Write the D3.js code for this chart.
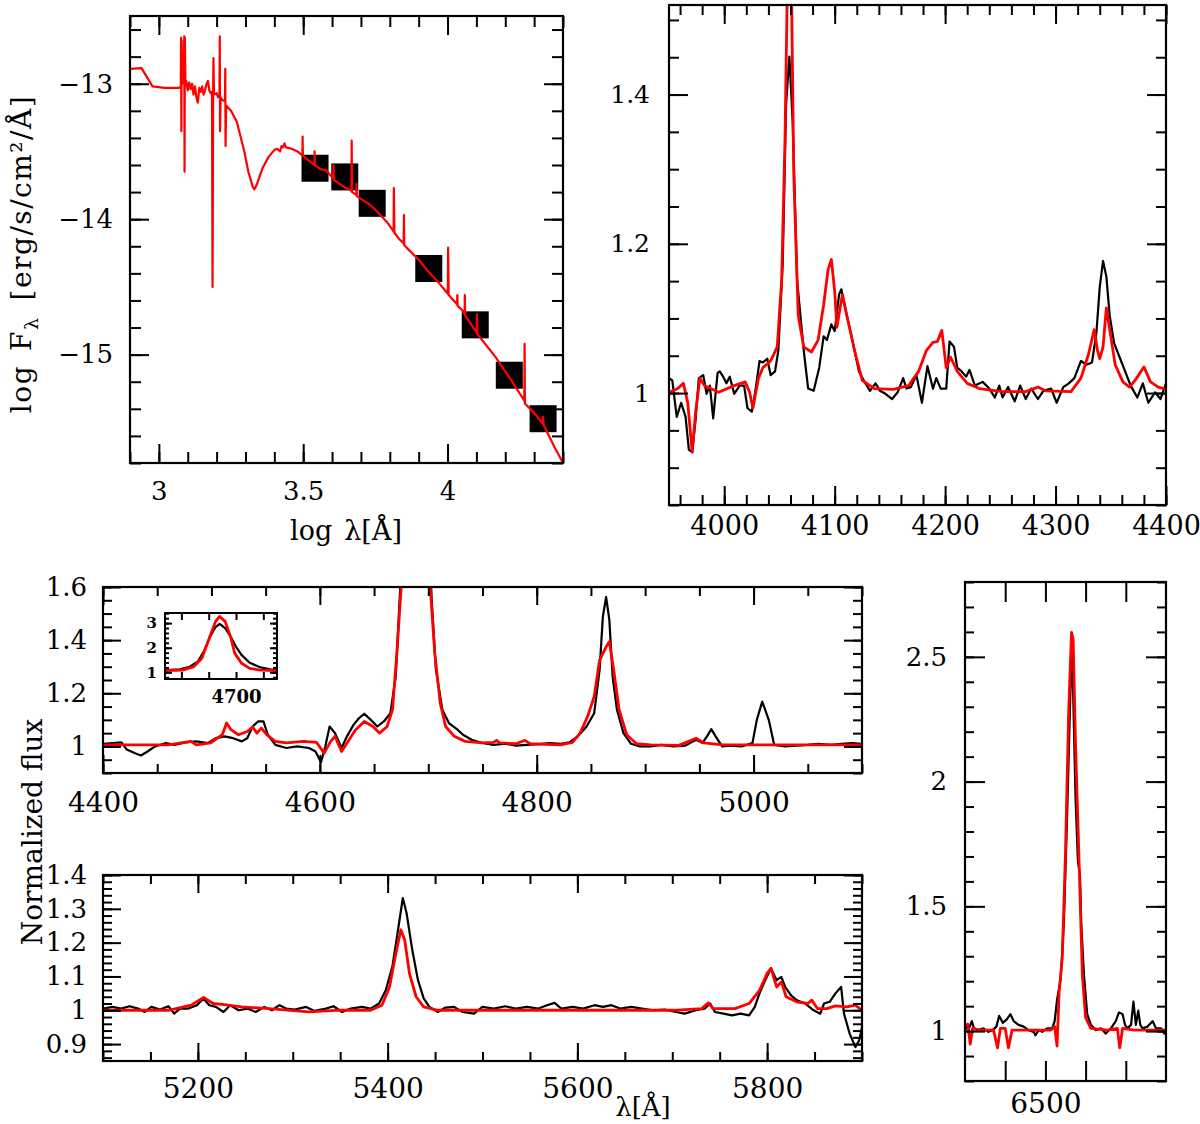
<!DOCTYPE html>
<html>
<head>
<meta charset="utf-8">
<script src="https://cdn.jsdelivr.net/npm/d3@7"></script>
<style>
  body { margin: 0; background: #fff; }
  svg { font-family: "DejaVu Serif", serif; }
  .frame { fill: none; stroke: #000; stroke-width: 2.2; }
  .tick line { stroke: #000; stroke-width: 2; }
  .obs { fill: none; stroke: #000; stroke-width: 2.2; stroke-linejoin: round; }
  .model { fill: none; stroke: #f00; stroke-width: 2.8; stroke-linejoin: round; }
  .label { font-size: 27px; text-anchor: middle; }
</style>
</head>
<body>
<div id="chart"></div>
<script>
// ---- SED panel (log lambda, log F) ----
const sedModel = [
  [2.9, -12.89], [2.94, -12.885], [2.978, -13.02], [3.02, -13.03], [3.07, -13.03],
  [3.076, -13.02], [3.077, -12.66], [3.078, -13.35], [3.079, -12.68], [3.081, -13.0],
  [3.086, -12.98], [3.088, -12.65], [3.089, -13.65], [3.090, -12.66], [3.092, -13.0],
  [3.095, -12.98], [3.10, -13.05], [3.105, -12.99], [3.11, -13.04], [3.115, -13.0],
  [3.12, -13.08], [3.125, -13.02], [3.13, -13.1], [3.135, -13.14], [3.14, -13.03],
  [3.145, -13.06], [3.15, -13.02], [3.155, -13.08], [3.16, -13.05], [3.165, -13.0],
  [3.17, -12.98], [3.175, -13.05], [3.18, -13.07], [3.184, -13.06], [3.186, -14.5],
  [3.188, -13.08], [3.189, -12.81], [3.191, -13.08], [3.2, -13.07], [3.205, -13.1],
  [3.21, -13.09], [3.211, -12.65], [3.212, -13.35], [3.214, -13.1], [3.22, -13.12],
  [3.229, -13.13], [3.230, -12.89], [3.231, -13.46], [3.233, -13.16], [3.25, -13.2],
  [3.27, -13.28], [3.296, -13.5], [3.31, -13.65], [3.325, -13.76], [3.331, -13.78],
  [3.34, -13.74], [3.36, -13.62], [3.38, -13.54], [3.40, -13.49], [3.41, -13.48],
  [3.42, -13.5], [3.425, -13.46], [3.43, -13.47], [3.435, -13.44], [3.44, -13.47],
  [3.46, -13.48], [3.48, -13.5], [3.497, -13.53], [3.498, -13.39], [3.499, -13.53],
  [3.52, -13.57], [3.539, -13.6], [3.5396, -13.5], [3.540, -13.6], [3.56, -13.63],
  [3.58, -13.64], [3.604, -13.7], [3.605, -13.6], [3.606, -13.71], [3.62, -13.73],
  [3.64, -13.76], [3.667, -13.79], [3.668, -13.42], [3.669, -13.8], [3.684, -13.82],
  [3.685, -13.74], [3.686, -13.83], [3.70, -13.85], [3.729, -13.89], [3.75, -13.93],
  [3.79, -14.02], [3.813, -14.09], [3.814, -13.77], [3.816, -14.1], [3.83, -14.14],
  [3.848, -14.18], [3.849, -13.97], [3.850, -14.19], [3.858, -14.21], [3.90, -14.3],
  [3.935, -14.39], [3.97, -14.47], [4.001, -14.55], [4.002, -14.21], [4.004, -14.56],
  [4.03, -14.62], [4.033, -14.63], [4.034, -14.56], [4.035, -14.64], [4.05, -14.67],
  [4.059, -14.7], [4.06, -14.56], [4.061, -14.71], [4.08, -14.77], [4.101, -14.84],
  [4.102, -14.70], [4.104, -14.85], [4.13, -14.92], [4.167, -15.02], [4.218, -15.18],
  [4.266, -15.34], [4.267, -14.92], [4.268, -15.36], [4.30, -15.43], [4.33, -15.51],
  [4.331, -15.46], [4.333, -15.52], [4.37, -15.68], [4.395, -15.78], [4.4, -15.8]
]
const sedPhot = [
  [3.541, -13.624], [3.644, -13.688], [3.739, -13.883], [3.935, -14.364],
  [4.096, -14.78], [4.214, -15.152], [4.331, -15.473]
]
const sedXTicks = [3, 3.5, 4]
const sedYTicks = [-13, -14, -15]

// ---- 3950-4400 A ----
const blueObs = [
  [3950, 1.02], [3953, 1.017], [3957, 0.968], [3961, 0.987], [3965, 0.968], [3968, 0.924],
  [3971, 0.921], [3974, 0.963], [3977, 1.02], [3981, 1.024], [3984, 0.999], [3987, 1.01],
  [3990, 0.966], [3994, 1.027], [3996, 1.029], [3999, 1.022], [4002, 1.013], [4005, 1.022],
  [4009, 0.999], [4014, 1.01], [4018, 1.01], [4021, 0.98], [4025, 0.975], [4028, 1.001],
  [4032, 1.043], [4035, 1.041], [4039, 1.046], [4042, 1.024], [4046, 1.029], [4049, 1.057],
  [4053, 1.175], [4056, 1.386], [4059, 1.451], [4062, 1.362], [4066, 1.151], [4072, 1.057],
  [4076, 1.006], [4081, 1.003], [4086, 1.034], [4090, 1.076], [4093, 1.071], [4097, 1.092],
  [4100, 1.083], [4104, 1.132], [4106, 1.139], [4111, 1.104], [4116, 1.071], [4122, 1.029],
  [4127, 1.015], [4132, 1.003], [4137, 1.013], [4141, 1.003], [4146, 0.999], [4152, 0.992],
  [4157, 1.001], [4162, 1.02], [4165, 1.006], [4169, 1.008], [4174, 1.024], [4179, 0.987],
  [4184, 1.036], [4189, 1.006], [4192, 1.02], [4196, 1.006], [4201, 1.006], [4204, 1.069],
  [4208, 1.062], [4211, 1.034], [4215, 1.029], [4219, 1.022], [4222, 1.031], [4227, 1.01],
  [4234, 1.015], [4240, 1.006], [4245, 0.994], [4249, 1.01], [4252, 0.994], [4257, 1.008],
  [4263, 0.989], [4268, 1.01], [4273, 0.992], [4278, 1.006], [4284, 0.992], [4289, 1.003],
  [4296, 1.006], [4301, 0.987], [4307, 1.008], [4312, 1.013], [4317, 1.02], [4323, 1.043],
  [4328, 1.038], [4333, 1.041], [4337, 1.081], [4340, 1.142], [4343, 1.177], [4346, 1.156],
  [4349, 1.104], [4353, 1.067], [4358, 1.048], [4363, 1.029], [4368, 1.01], [4374, 0.994],
  [4379, 1.013], [4384, 0.987], [4390, 1.001], [4395, 0.992], [4400, 1.013]
]
const blueModel = [
  [3950, 1.001], [3958, 1.006], [3963, 1.013], [3967, 0.987], [3971, 0.921], [3974, 0.973],
  [3978, 1.02], [3982, 1.01], [3995, 1.001], [4009, 1.01], [4019, 1.015], [4023, 1.001],
  [4026, 0.98], [4031, 1.02], [4035, 1.034], [4042, 1.043], [4048, 1.062], [4052, 1.151],
  [4055, 1.339], [4057, 1.53], [4059, 1.62], [4061, 1.53], [4063, 1.292], [4067, 1.104],
  [4072, 1.062], [4079, 1.055], [4085, 1.071], [4090, 1.118], [4094, 1.165], [4097, 1.179],
  [4100, 1.137], [4102, 1.088], [4107, 1.132], [4111, 1.104], [4118, 1.057], [4125, 1.017],
  [4136, 1.006], [4153, 1.005], [4167, 1.01], [4176, 1.029], [4183, 1.057], [4189, 1.068],
  [4193, 1.069], [4197, 1.084], [4201, 1.034], [4205, 1.048], [4211, 1.029], [4220, 1.013],
  [4231, 1.006], [4252, 1.002], [4273, 1.002], [4284, 1.008], [4291, 1.003], [4314, 1.002],
  [4323, 1.02], [4330, 1.053], [4335, 1.085], [4338, 1.057], [4340, 1.046], [4343, 1.062],
  [4346, 1.114], [4350, 1.076], [4354, 1.038], [4361, 1.015], [4367, 1.008], [4372, 1.017],
  [4380, 1.035], [4386, 1.015], [4393, 1.008], [4400, 1.005]
]
const blueXTicks = [4000, 4100, 4200, 4300, 4400]
const blueYTicks = [1, 1.2, 1.4]

// ---- 4400-5100 A ----
const midObs = [
  [4400, 1.01], [4409, 1.013], [4417, 1.015], [4422, 0.988], [4429, 0.975], [4435, 0.966],
  [4441, 0.981], [4448, 1.0], [4458, 1.013], [4466, 1.006], [4476, 1.015], [4486, 1.019],
  [4497, 1.013], [4504, 1.031], [4512, 1.038], [4520, 1.031], [4528, 1.019], [4533, 1.031],
  [4538, 1.075], [4543, 1.094], [4548, 1.094], [4552, 1.044], [4559, 1.006], [4569, 0.994],
  [4579, 1.0], [4590, 0.994], [4596, 0.981], [4601, 0.94], [4605, 1.0], [4609, 1.075],
  [4614, 1.05], [4620, 0.994], [4625, 1.038], [4631, 1.081], [4636, 1.106], [4641, 1.123],
  [4647, 1.1], [4653, 1.075], [4659, 1.094], [4665, 1.125], [4670, 1.263], [4674, 1.588],
  [4677, 1.91], [4681, 2.45], [4685, 2.84], [4688, 2.97], [4692, 2.8], [4696, 2.45],
  [4700, 1.9], [4703, 1.5625], [4707, 1.29], [4713, 1.138], [4719, 1.088], [4727, 1.063],
  [4732, 1.044], [4740, 1.025], [4750, 1.013], [4760, 1.006], [4771, 1.01], [4781, 1.003],
  [4791, 1.006], [4802, 1.009], [4812, 1.013], [4822, 1.01], [4830, 1.015], [4838, 1.038],
  [4846, 1.075], [4853, 1.125], [4858, 1.288], [4861, 1.488], [4864, 1.5625], [4867, 1.475],
  [4870, 1.263], [4874, 1.138], [4880, 1.05], [4887, 1.01], [4895, 1.0], [4905, 1.0],
  [4915, 1.006], [4926, 1.0], [4937, 1.003], [4947, 1.025], [4953, 1.013], [4957, 1.038],
  [4961, 1.065], [4965, 1.038], [4971, 1.0], [4978, 1.003], [4989, 1.0], [4999, 1.013],
  [5003, 1.1], [5008, 1.169], [5014, 1.1], [5019, 1.006], [5029, 1.0], [5040, 1.003],
  [5050, 1.006], [5060, 1.01], [5071, 1.006], [5081, 1.01], [5091, 1.013], [5100, 1.01]
]
const midModel = [
  [4400, 1.006], [4460, 1.006], [4481, 1.019], [4486, 1.006], [4499, 1.013], [4510, 1.044],
  [4514, 1.088], [4518, 1.063], [4525, 1.044], [4533, 1.056], [4538, 1.073], [4542, 1.05],
  [4546, 1.069], [4551, 1.044], [4559, 1.019], [4569, 1.013], [4585, 1.019], [4597, 1.015],
  [4604, 0.975], [4610, 1.019], [4614, 1.038], [4620, 0.981], [4627, 1.025], [4633, 1.063],
  [4641, 1.094], [4649, 1.075], [4655, 1.05], [4662, 1.075], [4667, 1.138], [4671, 1.35],
  [4675, 1.6], [4680, 2.32], [4685, 3.07], [4688, 3.27], [4692, 3.07], [4696, 2.45],
  [4699, 1.9], [4702, 1.5875], [4706, 1.35], [4711, 1.163], [4716, 1.075], [4724, 1.038],
  [4734, 1.019], [4750, 1.013], [4760, 1.015], [4763, 1.023], [4766, 1.013], [4781, 1.01],
  [4789, 1.023], [4794, 1.01], [4822, 1.006], [4833, 1.015], [4840, 1.05], [4847, 1.113],
  [4853, 1.188], [4858, 1.325], [4864, 1.375], [4867, 1.394], [4871, 1.288], [4876, 1.138],
  [4883, 1.044], [4892, 1.01], [4905, 1.006], [4931, 1.004], [4947, 1.031], [4954, 1.013],
  [4972, 1.006], [5100, 1.006]
]
const midXTicks = [4400, 4600, 4800, 5000]
const midYTicks = [1, 1.2, 1.4, 1.6]

// ---- inset, He II 4686 ----
const insetObs = [
  [4648, 1.09], [4659, 1.12], [4666, 1.23], [4672, 1.43], [4677, 1.91], [4681, 2.45],
  [4685, 2.84], [4688, 2.97], [4692, 2.8], [4696, 2.45], [4700, 2.04], [4704, 1.71],
  [4710, 1.39], [4718, 1.2], [4725, 1.12], [4730, 1.09]
]
const insetModel = [
  [4648, 1.07], [4661, 1.09], [4669, 1.23], [4675, 1.57], [4680, 2.32], [4685, 3.07],
  [4688, 3.27], [4692, 3.07], [4696, 2.45], [4699, 1.78], [4704, 1.37], [4710, 1.16],
  [4718, 1.09], [4730, 1.07]
]
const insetXTicks = [4660, 4680, 4700, 4720]
const insetXLabels = [4700]
const insetYTicks = [1, 2, 3]

// ---- 5100-5900 A ----
const redObs = [
  [5100, 1.005], [5110, 1.01], [5119, 1.005], [5128, 1.012], [5137, 1.005], [5144, 0.995],
  [5151, 1.01], [5160, 1.002], [5169, 1.012], [5175, 0.99], [5181, 1.005], [5190, 1.005],
  [5199, 1.015], [5206, 1.035], [5212, 1.015], [5219, 1.01], [5227, 0.995], [5234, 1.015],
  [5243, 1.0], [5252, 1.005], [5261, 0.995], [5270, 1.01], [5278, 1.0], [5286, 1.015],
  [5293, 1.005], [5302, 1.002], [5314, 1.01], [5323, 0.998], [5335, 1.005], [5343, 1.012],
  [5352, 0.995], [5361, 1.005], [5373, 1.01], [5382, 1.005], [5391, 1.02], [5398, 1.059],
  [5405, 1.129], [5411, 1.238], [5416, 1.332], [5420, 1.287], [5426, 1.178], [5432, 1.089],
  [5438, 1.035], [5444, 1.01], [5453, 0.995], [5461, 1.008], [5470, 1.01], [5479, 0.995],
  [5491, 0.99], [5500, 1.01], [5512, 1.005], [5524, 1.012], [5535, 1.005], [5547, 1.01],
  [5559, 1.005], [5568, 1.015], [5576, 1.022], [5583, 1.005], [5595, 1.01], [5606, 1.005],
  [5618, 1.015], [5627, 1.01], [5636, 1.015], [5645, 1.005], [5657, 1.01], [5668, 1.005],
  [5680, 1.0], [5692, 1.002], [5704, 0.995], [5713, 0.99], [5725, 1.0], [5734, 1.005],
  [5740, 1.02], [5745, 0.995], [5754, 0.99], [5763, 0.985], [5772, 0.99], [5781, 0.985],
  [5787, 1.01], [5792, 1.05], [5798, 1.089], [5804, 1.124], [5810, 1.089], [5815, 1.099],
  [5819, 1.069], [5825, 1.045], [5831, 1.03], [5840, 1.02], [5849, 1.0], [5856, 0.99],
  [5860, 1.02], [5866, 1.025], [5872, 1.05], [5878, 1.069], [5881, 0.99], [5887, 0.931],
  [5893, 0.891], [5897, 0.911], [5900, 0.95]
]
const redModel = [
  [5100, 1.0], [5169, 1.0], [5193, 1.015], [5206, 1.038], [5216, 1.02], [5228, 1.017],
  [5246, 1.01], [5275, 1.005], [5317, 0.995], [5346, 1.0], [5382, 1.0], [5394, 1.015],
  [5402, 1.069], [5408, 1.158], [5414, 1.238], [5418, 1.208], [5423, 1.109], [5430, 1.04],
  [5438, 1.01], [5453, 1.0], [5701, 1.0], [5731, 1.005], [5738, 1.022], [5743, 1.005],
  [5766, 1.005], [5781, 1.02], [5792, 1.059], [5800, 1.109], [5804, 1.124], [5810, 1.069],
  [5815, 1.084], [5820, 1.04], [5831, 1.025], [5843, 1.02], [5847, 1.03], [5853, 1.005],
  [5863, 1.005], [5872, 1.013], [5884, 1.01], [5893, 1.015], [5900, 1.0]
]
const redXTicks = [5200, 5400, 5600, 5800]
const redYTicks = [0.9, 1, 1.1, 1.2, 1.3, 1.4]

// ---- H alpha ----
const haObs = [
  [6300, 1.025], [6308, 1.004], [6317, 1.04], [6322, 1.011], [6333, 1.004], [6346, 1.011],
  [6358, 0.997], [6369, 1.004], [6378, 1.018], [6385, 1.061], [6394, 1.033], [6404, 1.047],
  [6413, 1.068], [6421, 1.04], [6433, 1.025], [6446, 1.018], [6458, 1.004], [6471, 0.997],
  [6475, 0.983], [6483, 1.004], [6492, 0.997], [6504, 1.011], [6517, 1.011], [6523, 1.04],
  [6529, 1.125], [6538, 1.21], [6546, 1.436], [6554, 1.861], [6561, 2.286], [6565, 2.527],
  [6569, 2.357], [6575, 1.932], [6581, 1.677], [6586, 1.627], [6589, 1.436], [6596, 1.224],
  [6604, 1.068], [6613, 1.025], [6625, 1.004], [6638, 1.011], [6650, 0.99], [6663, 1.011],
  [6675, 1.04], [6683, 1.075], [6692, 1.068], [6698, 1.025], [6704, 1.011], [6713, 1.025],
  [6719, 1.118], [6725, 1.025], [6731, 1.082], [6736, 1.025], [6742, 1.011], [6754, 1.018],
  [6767, 1.04], [6775, 1.011], [6788, 1.011], [6796, 0.99], [6800, 1.011]
]
const haModel = [
  [6300, 1.025], [6307, 1.028], [6313, 0.948], [6319, 1.011], [6338, 1.004], [6371, 1.004],
  [6381, 0.933], [6388, 1.011], [6400, 1.011], [6408, 0.933], [6417, 1.004], [6438, 1.004],
  [6513, 1.004], [6523, 1.018], [6529, 0.94], [6534, 1.153], [6542, 1.295], [6550, 1.72],
  [6558, 2.286], [6565, 2.598], [6569, 2.569], [6575, 2.145], [6583, 1.72], [6592, 1.224],
  [6600, 1.054], [6613, 1.011], [6654, 1.004], [6679, 1.011], [6685, 0.933], [6692, 1.011],
  [6721, 1.004], [6800, 1.004]
]
const haXTicks = [6400, 6500, 6600, 6700]
const haXLabels = [6500]
const haYTicks = [1, 1.5, 2, 2.5]

const svg = d3.select("#chart").append("svg")
  .attr("width", 1200)
  .attr("height", 1124)

let clipCount = 0

// one framed box with inward ticks on all four sides
const drawPanel = (p) => {
  const x = d3.scaleLinear().domain(p.xDomain).range([p.left, p.right])
  const y = d3.scaleLinear().domain(p.yDomain).range([p.bottom, p.top])
  const g = svg.append("g")
  const w = p.right - p.left, h = p.bottom - p.top

  if (p.fill) g.append("rect").attr("x", p.left).attr("y", p.top)
    .attr("width", w).attr("height", h).attr("fill", "#fff")

  const clipId = "clip" + (clipCount++)
  g.append("clipPath").attr("id", clipId).append("rect")
    .attr("x", p.left).attr("y", p.top).attr("width", w).attr("height", h)
  const plot = g.append("g").attr("clip-path", "url(#" + clipId + ")")

  if (p.squares) plot.selectAll("rect.phot")
    .data(p.squares)
    .join("rect")
    .attr("class", "phot")
    .attr("x", d => x(d[0]) - 13.5)
    .attr("y", d => y(d[1]) - 13.5)
    .attr("width", 27).attr("height", 27)
    .attr("fill", "#000")

  const line = d3.line().x(d => x(d[0])).y(d => y(d[1]))
  p.series.forEach(s => {
    plot.append("path").datum(s.data).attr("class", s.cls)
      .attr("d", line)
      .style("stroke-width", s.width || null)
  })

  const xLab = p.xLabels || p.xTicks
  const sides = [
    [d3.axisBottom(x), "translate(0," + p.bottom + ")", p.xTicks, p.xMinor, true, true],
    [d3.axisTop(x), "translate(0," + p.top + ")", p.xTicks, p.xMinor, false, true],
    [d3.axisLeft(y), "translate(" + p.left + ",0)", p.yTicks, p.yMinor, true, false],
    [d3.axisRight(y), "translate(" + p.right + ",0)", p.yTicks, p.yMinor, false, false]
  ]
  sides.forEach(([axis, tr, major, minor, labelled, isX]) => {
    g.append("g").attr("transform", tr)
      .call(axis.tickValues(minor).tickSize(-p.minorLen).tickFormat(""))
      .call(a => a.select(".domain").remove())
    const fmt = d => {
      if (!labelled) return ""
      if (isX && xLab.indexOf(d) < 0) return ""
      return d3.format("")(+d.toFixed(3))
    }
    g.append("g").attr("transform", tr)
      .call(axis.tickValues(major).tickSize(-p.majorLen)
        .tickPadding(isX ? p.xPad : p.yPad).tickFormat(fmt))
      .call(a => a.select(".domain").remove())
      .attr("font-family", null)
      .attr("font-size", isX ? p.xFont : p.yFont)
      .attr("font-weight", p.bold ? "bold" : null)
  })

  g.append("rect").attr("class", "frame")
    .attr("x", p.left).attr("y", p.top).attr("width", w).attr("height", h)
    .style("stroke-width", p.frameWidth || null)
  return { x, y }
}

const step = (a, b, s) => d3.range(Math.round(a / s), Math.round(b / s) + 1).map(v => +(v * s).toFixed(4))

drawPanel({
  left: 130, right: 563, top: 16, bottom: 463,
  xDomain: [2.9, 4.4], yDomain: [-15.8, -12.5],
  xTicks: sedXTicks, xMinor: step(2.9, 4.4, 0.1),
  yTicks: sedYTicks, yMinor: step(-15.8, -12.6, 0.2),
  majorLen: 19, minorLen: 11, xPad: 19, yPad: 17, xFont: 26, yFont: 26,
  squares: sedPhot,
  series: [{ data: sedModel, cls: "model", width: 2.2 }]
})

drawPanel({
  left: 669, right: 1166, top: 5, bottom: 505,
  xDomain: [3950, 4400], yDomain: [0.85, 1.52],
  xTicks: blueXTicks, xMinor: step(3960, 4400, 20),
  yTicks: blueYTicks, yMinor: step(0.85, 1.5, 0.05),
  majorLen: 19, minorLen: 10, xPad: 11, yPad: 19, xFont: 27, yFont: 25,
  series: [{ data: blueObs, cls: "obs" }, { data: blueModel, cls: "model" }]
})

drawPanel({
  left: 103, right: 862, top: 587, bottom: 773,
  xDomain: [4400, 5100], yDomain: [0.9, 1.6],
  xTicks: midXTicks, xMinor: step(4400, 5100, 50),
  yTicks: midYTicks, yMinor: step(0.9, 1.6, 0.05),
  majorLen: 18, minorLen: 9, xPad: 19, yPad: 16, xFont: 28, yFont: 26,
  series: [{ data: midObs, cls: "obs" }, { data: midModel, cls: "model" }]
})

drawPanel({
  left: 165, right: 277, top: 613, bottom: 679,
  xDomain: [4648, 4730], yDomain: [0.73, 3.41],
  xTicks: insetXTicks, xLabels: insetXLabels, xMinor: [],
  yTicks: insetYTicks, yMinor: step(0.8, 3.4, 0.2),
  majorLen: 7, minorLen: 4, xPad: 11, yPad: 8, xFont: 18, yFont: 15, bold: true,
  fill: true, frameWidth: 2,
  series: [{ data: insetObs, cls: "obs" }, { data: insetModel, cls: "model" }]
})

drawPanel({
  left: 103, right: 862, top: 875, bottom: 1061,
  xDomain: [5100, 5900], yDomain: [0.85, 1.4],
  xTicks: redXTicks, xMinor: step(5100, 5900, 50),
  yTicks: redYTicks, yMinor: step(0.86, 1.4, 0.02),
  majorLen: 18, minorLen: 9, xPad: 17, yPad: 16, xFont: 28, yFont: 26,
  series: [{ data: redObs, cls: "obs" }, { data: redModel, cls: "model" }]
})

drawPanel({
  left: 965, right: 1166, top: 582, bottom: 1081,
  xDomain: [6300, 6800], yDomain: [0.8, 2.8],
  xTicks: haXTicks, xLabels: haXLabels, xMinor: [],
  yTicks: haYTicks, yMinor: step(0.8, 2.8, 0.1),
  majorLen: 20, minorLen: 9, xPad: 12, yPad: 18, xFont: 28, yFont: 26,
  series: [{ data: haObs, cls: "obs" }, { data: haModel, cls: "model" }]
})

// axis titles
const logLam = svg.append("text").attr("class", "label")
  .attr("x", 346).attr("y", 540)
logLam.append("tspan").text("log")
logLam.append("tspan").attr("dx", 12).text("λ[Å]")

const logF = svg.append("text").attr("class", "label")
  .attr("transform", "translate(31,254) rotate(-90)")
  .style("font-size", "28px")
  .style("letter-spacing", "1.5px")
logF.append("tspan").text("log")
logF.append("tspan").attr("dx", 14).text("F")
logF.append("tspan").attr("dy", 7).attr("font-size", 19).text("λ")
logF.append("tspan").attr("dy", -7).attr("dx", 16).text("[erg/s/cm²/Å]")

svg.append("text").attr("class", "label")
  .attr("transform", "translate(42,832) rotate(-90)")
  .style("font-size", "28px")
  .text("Normalized  flux")

svg.append("text").attr("class", "label")
  .attr("x", 643).attr("y", 1116)
  .style("font-size", "26px")
  .text("λ[Å]")
</script>
</body>
</html>
